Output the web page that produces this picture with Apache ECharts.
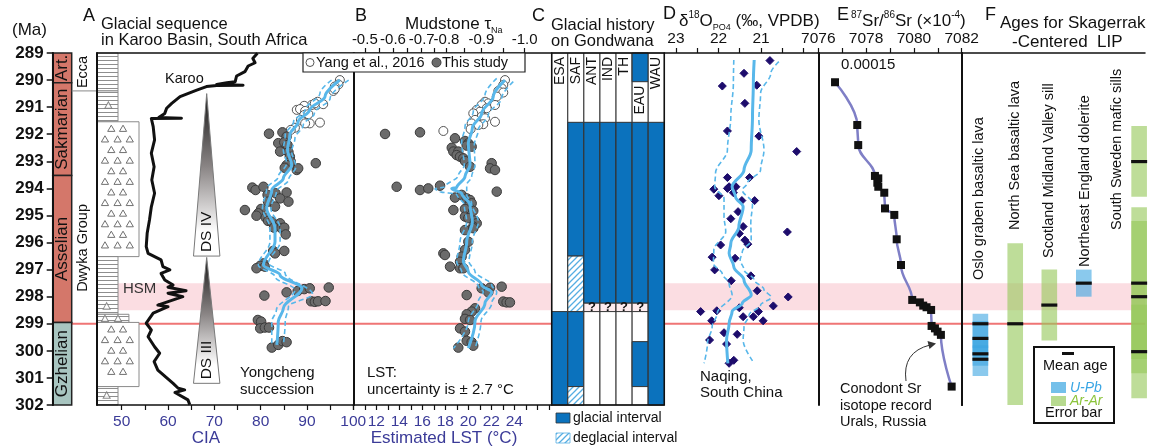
<!DOCTYPE html>
<html>
<head>
<meta charset="utf-8">
<script src="https://cdn.jsdelivr.net/npm/echarts@6/dist/echarts.min.js"></script>
<style>
html, body { margin: 0; padding: 0; background: #fff; }
#chart { width: 1151px; height: 448px; }
</style>
</head>
<body>
<div id="chart"></div>
<script>
// ---- time scale ----
var stageNames = ['Art.', 'Sakmarian', 'Asselian', 'Gzhelian'];
var stageTop = [289, 290.1, 293.52, 298.95];
var stageBase = [290.1, 293.52, 298.95, 302];

var groupNames = ['Ecca', 'Dwyka Group'];
var groupTop = [289, 290.4];
var groupBase = [290.4, 302];

var lithTop = [289, 290.4, 291.54, 296.52, 298.65, 298.95, 301.32];
var lithBase = [290.4, 291.54, 296.52, 298.65, 298.95, 301.32, 302];
var lithKind = ['mud', 'mud', 'diamictite', 'mud', 'mixed', 'diamictite', 'mud'];
var lithClasts = [[0.27, 290.92], [0.23, 298.34], [0.19, 298.8], [0.5, 298.8], [0.23, 301.63]];

var hsmBand = [297.5, 298.5];
var cpBoundary = 299.0;

var dsNames = ['DS IV', 'DS III'];
var dsTop = [290.5, 296.55];
var dsBase = [296.5, 301.2];

// ---- A: CIA ----
var karooCIA = [[79.3,289.01],[78.3,289.2],[78.8,289.36],[77.3,289.48],[76.6,289.69],[74.8,289.85],[74.5,290.06],[72.7,290.1],[70.5,290.16],[76.2,290.19],[70.5,290.2],[68.3,290.24],[66.2,290.37],[62.6,290.61],[60.8,290.86],[59.7,291.04],[59.3,291.23],[58.0,291.38],[62.9,291.41],[56.4,291.42],[56.8,291.72],[57.1,292.21],[56.4,292.7],[57.0,293.2],[56.5,293.69],[57.1,294.18],[56.4,294.68],[56.0,295.17],[55.5,295.66],[55.3,296.15],[55.7,296.4],[57.1,296.52],[58.5,296.64],[58.9,296.89],[60.4,297.01],[58.5,297.14],[59.3,297.38],[61.1,297.57],[60.0,297.65],[63.9,297.78],[60.0,297.87],[63.2,298.0],[57.8,298.31],[60.0,298.37],[56.8,298.61],[55.3,298.98],[56.4,299.23],[55.7,299.48],[57.1,299.85],[58.2,300.09],[57.0,300.4],[57.8,300.71],[61.1,301.2],[62.2,301.38],[63.6,301.44],[61.5,301.54],[64.3,301.81],[64.7,301.99]];
var ciaYang = [[97.1,290.0],[96.8,290.16],[96.0,290.24],[95.7,290.4],[96.0,290.33],[92.3,290.8],[92.1,290.92],[93.5,290.89],[91.0,290.92],[89.4,290.95],[91.7,290.86],[87.8,291.1],[88.5,291.07],[89.6,291.14],[89.4,291.29],[90.3,291.26],[88.7,291.47],[90.6,291.6],[89.6,291.6],[92.8,291.57],[87.4,291.76],[86.5,291.84]];
var ciaThis = [[81.8,291.98],[84.7,291.93],[85.6,292.09],[83.8,292.33],[85.1,292.3],[85.8,292.4],[84.2,292.64],[86.0,292.66],[86.3,292.83],[86.5,293.01],[85.6,293.14],[85.2,293.24],[91.9,293.07],[87.8,293.32],[88.1,293.26],[78.2,293.97],[78.9,294.06],[80.6,293.94],[85.6,294.15],[83.2,294.18],[81.5,294.24],[84.2,294.37],[86.0,294.49],[81.6,294.49],[83.1,294.67],[76.6,294.8],[80.1,294.76],[79.5,294.92],[79.1,295.01],[81.1,295.08],[81.6,295.2],[82.4,295.23],[84.2,295.29],[82.9,295.45],[84.5,295.47],[85.1,295.45],[85.4,295.7],[82.7,296.31],[83.1,296.4],[85.1,296.31],[80.6,296.77],[79.9,296.86],[79.1,296.95],[80.9,296.89],[80.8,297.96],[85.6,297.84],[88.0,297.79],[89.4,297.72],[90.6,297.69],[94.7,297.66],[90.9,298.17],[91.7,298.19],[92.4,298.17],[94.0,298.16],[79.4,298.86],[80.1,298.92],[79.9,299.17],[80.9,299.14],[81.8,299.14],[82.4,299.88],[83.8,299.78],[84.7,299.64],[85.6,299.68]];
var ciaMean = [[97.1,290.0],[93.9,290.61],[90.6,291.1],[88.1,291.54],[86.3,292.03],[85.8,292.58],[86.7,293.14],[84.9,293.63],[82.4,294.06],[81.3,294.73],[83.1,295.47],[83.1,295.97],[80.6,296.83],[84.2,297.2],[88.9,297.69],[84.9,298.43],[83.8,298.92],[83.5,299.78]];
var ciaLow = [[95.3,290.0],[92.8,290.49],[89.6,291.1],[87.1,291.54],[85.3,292.03],[84.9,292.58],[85.6,293.08],[83.8,293.57],[81.3,294.0],[80.4,294.73],[82.0,295.47],[82.0,295.97],[79.5,296.83],[83.1,297.26],[87.4,297.75],[83.4,298.49],[82.4,298.92],[82.4,299.78]];
var ciaHigh = [[99.0,290.0],[95.0,290.67],[91.6,291.23],[89.2,291.66],[87.4,292.15],[86.7,292.64],[87.6,293.2],[86.0,293.69],[83.4,294.12],[82.2,294.73],[84.2,295.47],[84.2,295.97],[81.7,296.77],[85.3,297.14],[91.2,297.91],[86.0,298.36],[85.3,298.92],[84.9,299.78]];

// ---- B: LST ----
var lstYang = [[23.19,290.0],[23.04,290.18],[22.9,290.3],[22.61,290.4],[23.04,290.46],[22.47,290.61],[21.45,290.8],[21.74,290.86],[21.16,290.92],[22.32,290.92],[21.6,291.04],[20.73,291.1],[21.01,291.17],[20.43,291.23],[21.16,291.35],[21.45,291.41],[20.58,291.47],[22.32,291.54],[20.29,291.6],[21.3,291.63],[20.87,291.66],[20.2,291.81],[17.83,291.88]];
var lstThis = [[12.76,291.99],[15.8,291.93],[18.84,292.15],[19.71,292.25],[20.0,292.34],[19.86,292.42],[20.29,292.46],[18.56,292.5],[18.7,292.64],[19.13,292.64],[18.99,292.77],[19.28,292.83],[19.57,292.89],[19.71,292.99],[20.15,293.2],[22.03,293.07],[21.89,293.26],[22.32,293.32],[13.77,293.94],[15.8,294.06],[16.52,294.0],[22.47,294.12],[17.54,293.9],[18.84,294.34],[19.42,294.24],[19.86,294.37],[20.15,294.43],[20.29,294.55],[20.0,294.67],[18.7,294.8],[19.71,294.76],[20.43,294.83],[19.71,295.04],[20.0,295.1],[20.58,295.2],[20.73,295.29],[20.43,295.41],[19.71,295.54],[20.43,295.47],[20.0,295.97],[19.71,296.27],[17.83,296.4],[17.97,296.46],[19.42,296.52],[19.28,296.71],[18.41,296.89],[19.28,296.95],[19.57,296.95],[21.16,297.69],[21.89,297.67],[22.9,297.63],[21.74,297.84],[19.86,297.94],[23.04,298.18],[23.33,298.21],[23.62,298.21],[20.58,298.43],[20.29,298.55],[19.86,298.65],[19.71,298.82],[20.15,298.86],[19.28,299.17],[19.71,299.29],[19.86,299.63],[20.29,299.68],[20.43,299.81],[19.13,299.88]];
var lstMean = [[23.19,290.0],[22.17,290.61],[21.16,291.23],[20.35,291.78],[20.0,292.34],[20.15,293.13],[19.71,293.56],[18.99,293.97],[18.56,294.0],[19.42,294.18],[20.15,294.61],[20.35,295.23],[19.86,295.97],[19.57,296.71],[20.0,297.07],[21.16,297.57],[22.03,297.84],[21.45,298.24],[20.58,298.92],[20.0,299.9]];
var lstLow = [[22.47,289.94],[21.45,290.55],[20.43,291.17],[19.71,291.72],[19.42,292.3],[19.65,293.14],[19.13,293.53],[17.97,293.94],[17.1,294.02],[17.54,294.12],[18.99,294.22],[19.65,294.61],[19.86,295.23],[19.28,295.97],[18.99,296.71],[19.42,297.07],[20.87,297.63],[21.3,297.81],[20.87,298.18],[20.0,298.92],[18.7,299.91]];
var lstHigh = [[23.91,290.06],[22.9,290.67],[21.74,291.29],[20.87,291.84],[20.52,292.4],[20.58,293.14],[20.29,293.57],[19.86,293.87],[19.86,294.24],[20.29,294.55],[20.87,295.23],[20.35,295.97],[20.06,296.71],[20.58,297.07],[22.03,297.57],[22.47,297.84],[22.03,298.24],[21.1,298.92],[20.58,299.91]];
var tauLabels = ['-0.5', '-0.6', '-0.7', '-0.8', '-0.9', '-1.0'];
var tauAtLst = [11.0, 13.45, 15.95, 18.1, 21.15, 24.9];

// ---- C: glacial history ----
var gondCols = ['ESA', 'SAF', 'ANT', 'IND', 'TH', 'EAU', 'WAU'];
var glacial = [
    [[298.55, 302]],
    [[291.56, 296.5], [298.55, 301.32]],
    [[291.56, 298.24]],
    [[291.56, 298.24]],
    [[291.56, 298.24]],
    [[289, 290.06], [291.56, 298.24], [299.66, 301.32]],
    [[291.56, 302]]
];
var deglacial = [[], [[296.5, 298.55], [301.32, 302]], [], [], [], [], []];
var uncertain = [[], [], [[298.24, 298.55]], [[298.24, 298.55]], [[298.24, 298.55]], [[298.24, 298.55]], []];

// ---- D: d18O phosphate ----
var d18O = [[20.79,289.28],[21.4,289.75],[21.91,290.22],[21.1,290.19],[21.38,290.86],[21.79,291.88],[21.05,292.07],[20.16,292.64],[21.79,293.6],[21.27,293.6],[22.11,294.03],[21.79,294.0],[21.75,293.94],[21.59,293.94],[21.99,294.27],[21.65,294.16],[21.45,294.45],[21.15,294.45],[21.54,294.86],[21.71,295.12],[21.42,295.41],[21.51,295.67],[20.38,295.61],[21.38,295.91],[21.31,296.06],[21.95,296.09],[22.15,296.54],[21.61,296.58],[22.09,297.01],[21.24,297.23],[21.7,297.41],[21.09,297.78],[20.36,298.01],[20.71,298.34],[21.51,298.41],[22.42,298.55],[22.04,298.52],[21.06,298.55],[21.42,298.74],[21.18,298.74],[20.95,298.89],[22.16,298.89],[21.87,299.33],[21.56,299.39],[22.21,299.6],[21.81,299.75],[21.75,300.46],[21.64,300.35]];
var d18Mean = [[21.16,289.26],[21.18,290.12],[21.2,291.35],[21.23,292.58],[21.4,293.32],[21.68,293.94],[21.6,294.31],[21.42,294.68],[21.52,295.41],[21.71,296.03],[21.75,296.4],[21.64,296.89],[21.4,297.38],[21.23,297.94],[21.44,298.24],[21.68,298.55],[21.75,298.98],[21.81,299.6],[21.78,300.46]];
var d18Heavy = [[21.64,289.26],[21.65,290.12],[21.71,291.35],[21.79,292.58],[22.07,293.44],[22.09,293.94],[21.87,294.37],[21.87,295.04],[21.83,295.6],[22.11,296.27],[22.12,296.77],[21.91,297.16],[21.75,297.51],[21.68,297.94],[22.03,298.61],[22.15,299.11],[22.26,299.72],[22.34,300.46]];
var d18Light = [[20.58,289.32],[20.77,289.75],[21.01,290.49],[21.05,291.47],[20.93,292.58],[21.01,293.32],[21.32,293.81],[21.44,294.06],[21.2,294.55],[21.24,295.29],[21.23,295.91],[21.44,296.34],[21.49,296.64],[21.4,297.01],[21.16,297.38],[20.93,297.73],[20.76,298.02],[21.01,298.31],[21.28,298.67],[21.4,299.11],[21.42,299.6],[21.16,300.46]];

// ---- E: 87Sr/86Sr (x10^-4) ----
var srAge = [290.08,291.66,292.4,293.54,293.63,293.79,293.94,294.16,294.74,294.98,295.88,296.83,298.12,298.21,298.33,298.39,298.49,299.08,299.17,299.29,299.41,301.32];
var srRatio = [7076.7,7077.63,7077.67,7078.37,7078.51,7078.47,7078.51,7078.76,7078.79,7079.18,7079.28,7079.46,7079.93,7080.25,7080.39,7080.53,7080.72,7080.74,7080.88,7080.99,7081.13,7081.58];

// ---- F: Skagerrak-Centered LIP ages ----
var lipNames = ['Oslo graben basaltic lava', 'North Sea basaltic lava', 'Scotland Midland Valley sill', 'Northeast England dolerite', 'South Sweden mafic sills'];
var lipSite = [0, 0, 0, 0, 1, 2, 3, 4, 4, 4, 4];
var lipYoung = [298.63, 298.9, 299.5, 299.8, 296.03, 297.0, 297.0, 291.7, 294.7, 295.2, 298.3];
var lipOld = [299.9, 300.2, 300.93, 300.55, 302.0, 299.62, 298.0, 294.31, 300.3, 300.83, 301.75];
var lipMean = [299.0, 299.54, 300.11, 300.31, 299.0, 298.31, 297.5, 293.01, 297.5, 298.0, 300.03];
var lipMethod = ['U-Pb', 'U-Pb', 'U-Pb', 'U-Pb', 'Ar-Ar', 'Ar-Ar', 'U-Pb', 'Ar-Ar', 'Ar-Ar', 'Ar-Ar', 'Ar-Ar'];

// axis ticks
var ciaTicks = [50, 55, 60, 65, 70, 75, 80, 85, 90, 95, 100];
var ciaLabels = [50, 60, 70, 80, 90, 100];
var lstTicks = [10, 11, 12, 13, 14, 15, 16, 17, 18, 19, 20, 21, 22, 23, 24, 25, 26, 27];
var lstLabels = [12, 14, 16, 18, 20, 22, 24];
var d18Ticks = [20, 20.5, 21, 21.5, 22, 22.5, 23];
var d18Labels = [21, 22, 23];
var srLabels = [7076, 7078, 7080, 7082];

var FONT = "'Liberation Sans', Arial, Helvetica, sans-serif";
var AXIS_BLUE = '#3b3b98';
var LOESS = '#58b7ea';
var TOP = 53, H = 352;

var makeCanvas = function (w, h, draw) {
    var c = document.createElement('canvas');
    c.width = w; c.height = h;
    var ctx = c.getContext('2d');
    ctx.fillStyle = '#fff';
    ctx.fillRect(0, 0, w, h);
    draw(ctx);
    return c;
};
var mudFill = {type: 'pattern', repeat: 'repeat', image: makeCanvas(6, 4, function (ctx) {
    ctx.strokeStyle = '#8e8e8e'; ctx.lineWidth = 1;
    ctx.beginPath(); ctx.moveTo(0, 0.5); ctx.lineTo(6, 0.5); ctx.stroke();
})};
var degFill = {type: 'pattern', repeat: 'repeat', image: makeCanvas(6, 6, function (ctx) {
    ctx.strokeStyle = '#55ade2'; ctx.lineWidth = 1.3;
    ctx.beginPath();
    ctx.moveTo(0, 6); ctx.lineTo(6, 0);
    ctx.moveTo(-1, 1); ctx.lineTo(1, -1);
    ctx.moveTo(5, 7); ctx.lineTo(7, 5);
    ctx.stroke();
})};

var rectBetween = function (p0, p1) {
    return {x: Math.min(p0[0], p1[0]), y: Math.min(p0[1], p1[1]),
        width: Math.abs(p1[0] - p0[0]), height: Math.abs(p1[1] - p0[1])};
};
var triangle = function (cx, cy) {
    return {type: 'polygon', shape: {points: [[cx, cy - 3.2], [cx - 3.6, cy + 3], [cx + 3.6, cy + 3]]},
        style: {fill: '#fff', stroke: '#707070', lineWidth: 1}};
};
var vtext = function (x, y, text, size, align) {
    return {type: 'text', x: x, y: y, rotation: Math.PI / 2,
        style: {text: text, fill: '#111', fontSize: size, fontFamily: FONT, align: align || 'center', verticalAlign: 'middle'}};
};

var grid = [
    {left: 118, width: 1027},     // 0 HSM band
    {left: 72, width: 1073},      // 1 boundary line
    {left: 52.7, width: 19},      // 2 stages
    {left: 71.7, width: 25.3},    // 3 groups
    {left: 97, width: 42},        // 4 lithology
    {left: 97, width: 256.3},     // 5 A
    {left: 353.3, width: 198.4},  // 6 B
    {left: 551.7, width: 112.6, show: true, borderColor: '#111', borderWidth: 1.5, backgroundColor: 'transparent', z: 10}, // 7 C
    {left: 664.3, width: 154},    // 8 D
    {left: 818.3, width: 143.4},  // 9 E
    {left: 961.7, width: 183.3}   // 10 F
].map(function (g) {
    g.top = TOP; g.height = H; g.containLabel = false; g.outerBoundsMode = 'none';
    return g;
});

var hidden = function (gi, min, max) {
    return {type: 'value', gridIndex: gi, min: min, max: max, show: false};
};
var lineOnly = {show: true, lineStyle: {color: '#111', width: 1.5}};
var tickStyle = function (values) {
    return {show: true, customValues: values, length: 5, lineStyle: {color: '#111', width: 1.2}};
};
var plain = function (v) { return String(v); };

var xAxis = [
    hidden(0, 0, 1), hidden(1, 0, 1), hidden(2, 0, 1), hidden(3, 0, 1), hidden(4, 0, 1),
    {type: 'value', gridIndex: 5, min: 44.67, max: 100, position: 'bottom', z: 6,
        axisLine: lineOnly, axisTick: tickStyle(ciaTicks), splitLine: {show: false},
        axisLabel: {customValues: ciaLabels, color: AXIS_BLUE, fontSize: 15.5, fontFamily: FONT, margin: 9, formatter: plain}},
    {type: 'value', gridIndex: 5, min: 44.67, max: 100, position: 'top', z: 6,
        axisLine: lineOnly, axisTick: {show: false}, axisLabel: {show: false}, splitLine: {show: false}},
    {type: 'value', gridIndex: 6, min: 10, max: 27.25, position: 'bottom', z: 6,
        axisLine: lineOnly, axisTick: tickStyle(lstTicks), splitLine: {show: false},
        axisLabel: {customValues: lstLabels, color: AXIS_BLUE, fontSize: 15.5, fontFamily: FONT, margin: 9, formatter: plain}},
    {type: 'value', gridIndex: 6, min: 10, max: 27.25, position: 'top', z: 6,
        axisLine: lineOnly, splitLine: {show: false},
        axisTick: tickStyle(tauAtLst.concat(tauAtLst.slice(1).map(function (v, i) { return (v + tauAtLst[i]) / 2; }))),
        axisLabel: {customValues: tauAtLst, color: '#111', fontSize: 15, fontFamily: FONT, margin: 6,
            formatter: function (v) {
                var best = 0;
                tauAtLst.forEach(function (t, i) { if (Math.abs(t - v) < Math.abs(tauAtLst[best] - v)) best = i; });
                return tauLabels[best];
            }}},
    hidden(7, 0, 7),
    {type: 'value', gridIndex: 8, min: 19.652, max: 23.275, inverse: true, position: 'top', z: 6,
        axisLine: lineOnly, axisTick: tickStyle(d18Ticks), splitLine: {show: false},
        axisLabel: {customValues: d18Labels, color: '#111', fontSize: 15.5, fontFamily: FONT, margin: 6, formatter: plain}},
    {type: 'value', gridIndex: 9, min: 7076, max: 7082, interval: 1, position: 'top', z: 6,
        axisLine: lineOnly, axisTick: {show: true, length: 5, lineStyle: {color: '#111', width: 1.2}}, splitLine: {show: false},
        axisLabel: {customValues: srLabels, color: '#111', fontSize: 15.5, fontFamily: FONT, margin: 6, formatter: plain}},
    {type: 'value', gridIndex: 10, min: 0, max: 5, position: 'top', z: 6,
        axisLine: lineOnly, axisTick: {show: false}, axisLabel: {show: false}, splitLine: {show: false}}
];

var ageAxis = function (gi, extra) {
    return Object.assign({type: 'value', gridIndex: gi, min: 289, max: 302, inverse: true, show: false}, extra || {});
};
var sideLine = function (gi, pos) {
    return ageAxis(gi, {show: true, position: pos, z: 6, axisLine: {show: true, lineStyle: {color: '#111', width: 2}},
        axisTick: {show: false}, axisLabel: {show: false}, splitLine: {show: false}});
};
var yAxis = [
    ageAxis(0), ageAxis(1),
    ageAxis(2, {show: true, position: 'left', interval: 1, z: 6,
        axisLine: {show: true, lineStyle: {color: '#111', width: 2}},
        axisTick: {show: true, length: 6, lineStyle: {color: '#111', width: 1.5}},
        axisLabel: {color: '#111', fontSize: 17, fontWeight: 'bold', fontFamily: FONT, margin: 9},
        splitLine: {show: false}}),
    ageAxis(3), ageAxis(4),
    sideLine(5, 'left'), sideLine(6, 'left'), ageAxis(7),
    sideLine(8, 'right'), sideLine(9, 'right'), sideLine(10, 'right')
];

var STAGE_COLORS = ['#d4776a', '#d4776a', '#d4776a', '#a8c5c0'];
var LIP_COLORS = {'U-Pb': 'rgba(60,165,225,0.6)', 'Ar-Ar': 'rgba(150,200,90,0.62)'};
var F_SLOT = [0.51, 1.46, 2.39, 3.33, 4.84];
var DS_X = 68.35;

var pairs = function (a, b) { return a.map(function (v, i) { return [b[i], v]; }); };

var loess = function (name, xi, yi, data, dashed) {
    return {name: name, type: 'line', xAxisIndex: xi, yAxisIndex: yi, data: data, z: 4, silent: true,
        showSymbol: false, smooth: 0.35, smoothMonotone: 'y',
        lineStyle: dashed ? {color: LOESS, width: 1.6, type: [5, 3]} : {color: LOESS, width: 3}};
};
var dots = function (name, xi, yi, data, fill, border, size, symbol) {
    return {name: name, type: 'scatter', xAxisIndex: xi, yAxisIndex: yi, data: data, z: 3, silent: true,
        symbol: symbol || 'circle', symbolSize: size,
        itemStyle: {color: fill, borderColor: border, borderWidth: 1, opacity: 1}};
};

var gondRows = [];
gondCols.forEach(function (c, i) {
    gondRows.push([i, 289, 302, 0]);
    glacial[i].forEach(function (r) { gondRows.push([i, r[0], r[1], 1]); });
    deglacial[i].forEach(function (r) { gondRows.push([i, r[0], r[1], 2]); });
    uncertain[i].forEach(function (r) { gondRows.push([i, r[0], r[1], 3]); });
});
var gondLabelRows = gondCols.map(function (c, i) {
    var top = 289;
    glacial[i].forEach(function (r) { if (r[0] <= top) top = Math.max(top, r[1]); });
    return [i, top];
});

var series = [
    {type: 'custom', xAxisIndex: 0, yAxisIndex: 0, z: 1, silent: true, data: [[0, hsmBand[0], hsmBand[1]]],
        renderItem: function (params, api) {
            return {type: 'rect', shape: rectBetween(api.coord([0, api.value(1)]), api.coord([1, api.value(2)])),
                style: {fill: '#fbdde2'}};
        }},
    {type: 'custom', xAxisIndex: 1, yAxisIndex: 1, z: 1, silent: true, data: [[0, cpBoundary]],
        renderItem: function (params, api) {
            var a = api.coord([0, api.value(1)]), b = api.coord([1, api.value(1)]);
            return {type: 'line', shape: {x1: a[0], y1: a[1], x2: b[0], y2: b[1]}, style: {stroke: '#ef7575', lineWidth: 2.2}};
        }},
    {type: 'custom', xAxisIndex: 2, yAxisIndex: 2, silent: true,
        data: stageNames.map(function (n, i) { return [0, stageTop[i], stageBase[i], i]; }),
        renderItem: function (params, api) {
            var i = api.value(3);
            var p0 = api.coord([0, api.value(1)]), p1 = api.coord([1, api.value(2)]);
            return {type: 'group', children: [
                {type: 'rect', shape: rectBetween(p0, p1), style: {fill: STAGE_COLORS[i], stroke: '#222', lineWidth: 1.5}},
                vtext((p0[0] + p1[0]) / 2, (p0[1] + p1[1]) / 2, stageNames[i], 17)
            ]};
        }},
    {type: 'custom', xAxisIndex: 3, yAxisIndex: 3, silent: true,
        data: groupNames.map(function (n, i) { return [0, groupTop[i], groupBase[i], i]; }),
        renderItem: function (params, api) {
            var i = api.value(3);
            var p0 = api.coord([0, api.value(1)]), p1 = api.coord([1, api.value(2)]);
            var kids = [vtext((p0[0] + p1[0]) / 2 - 1, (p0[1] + p1[1]) / 2, groupNames[i], 14.5)];
            if (i === 0) {
                kids.push({type: 'line', shape: {x1: p0[0], y1: p1[1], x2: p1[0], y2: p1[1]}, style: {stroke: '#8a8a8a', lineWidth: 1}});
            }
            return {type: 'group', children: kids};
        }},
    {type: 'custom', xAxisIndex: 4, yAxisIndex: 4, silent: true,
        data: lithKind.map(function (k, i) { return [0, lithTop[i], lithBase[i], i]; }),
        renderItem: function (params, api) {
            var kind = lithKind[api.value(3)];
            var w = kind === 'mud' ? 0.5 : (kind === 'mixed' ? 0.76 : 1);
            var p0 = api.coord([0, api.value(1)]), p1 = api.coord([w, api.value(2)]);
            var kids = [{type: 'rect', shape: rectBetween(p0, p1),
                style: {fill: kind === 'diamictite' ? '#fff' : mudFill, stroke: '#8a8a8a', lineWidth: 1}}];
            if (kind === 'diamictite') {
                var width = p1[0] - p0[0];
                for (var y = p0[1] + 6.6, r = 0; y < p1[1] - 5; y += 10.6, r++) {
                    var xs = r % 2 === 0 ? [0.34, 0.62] : [0.19, 0.49, 0.78];
                    xs.forEach(function (f) { kids.push(triangle(p0[0] + f * width, y)); });
                }
            }
            return {type: 'group', children: kids};
        }},
    {type: 'scatter', xAxisIndex: 4, yAxisIndex: 4, data: lithClasts, symbol: 'triangle', symbolSize: [7, 6.5], silent: true, z: 3,
        itemStyle: {color: '#fff', borderColor: '#707070', borderWidth: 1}},

    // A
    {type: 'custom', xAxisIndex: 5, yAxisIndex: 5, silent: true,
        data: dsNames.map(function (n, i) { return [DS_X, dsTop[i], dsBase[i], i]; }),
        renderItem: function (params, api) {
            var apex = api.coord([DS_X, api.value(1)]);
            var bl = api.coord([DS_X - 2.85, api.value(2)]), br = api.coord([DS_X + 2.85, api.value(2)]);
            return {type: 'group', children: [
                {type: 'polygon', shape: {points: [apex, bl, br]},
                    style: {fill: new echarts.graphic.LinearGradient(0, 0, 0, 1, [
                        {offset: 0, color: '#151515'}, {offset: 0.45, color: '#8a8585'}, {offset: 0.85, color: '#ffffff'}]),
                        stroke: '#7a7a7a', lineWidth: 1}},
                vtext(apex[0], bl[1] - 4, dsNames[api.value(3)], 15.5, 'left')
            ]};
        }},
    {name: 'Karoo', type: 'line', xAxisIndex: 5, yAxisIndex: 5, data: karooCIA, showSymbol: false, z: 3, silent: true,
        lineStyle: {color: '#111', width: 3, join: 'round'}},
    dots('Yang et al., 2016', 5, 5, ciaYang, '#fff', '#555', 9),
    dots('This study', 5, 5, ciaThis, '#6b6b6b', '#3a3a3a', 9.5),
    loess('cia mean', 5, 5, ciaMean),
    loess('cia low', 5, 5, ciaLow, true),
    loess('cia high', 5, 5, ciaHigh, true),

    // B
    dots('Yang et al., 2016', 7, 6, lstYang, '#fff', '#555', 9),
    dots('This study', 7, 6, lstThis, '#6b6b6b', '#3a3a3a', 9.5),
    loess('lst mean', 7, 6, lstMean),
    loess('lst low', 7, 6, lstLow, true),
    loess('lst high', 7, 6, lstHigh, true),

    // C
    {type: 'custom', xAxisIndex: 9, yAxisIndex: 7, silent: true, data: gondRows,
        renderItem: function (params, api) {
            var col = api.value(0), kind = api.value(3);
            var p0 = api.coord([col, api.value(1)]), p1 = api.coord([col + 1, api.value(2)]);
            var fill = ['#fff', '#0b72bd', degFill, '#fdecef'][kind];
            var kids = [{type: 'rect', shape: rectBetween(p0, p1), style: {fill: fill, stroke: '#333', lineWidth: 1}}];
            if (kind === 3) {
                kids.push({type: 'text', x: (p0[0] + p1[0]) / 2, y: (p0[1] + p1[1]) / 2 + 0.5,
                    style: {text: '?', fill: '#111', fontSize: 13, fontWeight: 'bold', fontFamily: FONT, align: 'center', verticalAlign: 'middle'}});
            }
            return {type: 'group', children: kids};
        }},
    {type: 'custom', xAxisIndex: 9, yAxisIndex: 7, silent: true, z: 3, data: gondLabelRows,
        renderItem: function (params, api) {
            var p = api.coord([api.value(0) + 0.5, api.value(1)]);
            return vtext(p[0], p[1] + 4, gondCols[api.value(0)], 14, 'right');
        }},

    // D
    loess('d18 mean', 10, 8, d18Mean),
    loess('d18 heavy', 10, 8, d18Heavy, true),
    loess('d18 light', 10, 8, d18Light, true),
    dots('Naqing', 10, 8, d18O, '#1d0c6c', '#1d0c6c', 8, 'diamond'),

    // E
    {name: 'Sr', type: 'line', xAxisIndex: 11, yAxisIndex: 9, data: pairs(srAge, srRatio), silent: true, z: 3,
        smooth: 0.4, smoothMonotone: 'y', symbol: 'rect', symbolSize: 8, showSymbol: true,
        itemStyle: {color: '#111'}, lineStyle: {color: '#7f7fc6', width: 2.5}},

    // F
    {type: 'custom', xAxisIndex: 12, yAxisIndex: 10, silent: true, z: 3,
        data: lipSite.map(function (s, i) { return [s, lipYoung[i], lipOld[i], lipMean[i], i]; }),
        renderItem: function (params, api) {
            var s = api.value(0);
            var p0 = api.coord([F_SLOT[s], api.value(1)]), p1 = api.coord([F_SLOT[s], api.value(2)]);
            return {type: 'rect', shape: {x: p0[0] - 7.8, y: p0[1], width: 15.6, height: p1[1] - p0[1]},
                style: {fill: LIP_COLORS[lipMethod[api.value(4)]]}};
        }},
    {type: 'custom', xAxisIndex: 12, yAxisIndex: 10, silent: true, z: 4,
        data: lipSite.map(function (s, i) { return [s, lipMean[i]]; }),
        renderItem: function (params, api) {
            var p = api.coord([F_SLOT[api.value(0)], api.value(1)]);
            return {type: 'rect', shape: {x: p[0] - 8, y: p[1] - 1.6, width: 16, height: 3.2}, style: {fill: '#111'}};
        }}
];

var T = function (x, y, text, size, o) {
    o = o || {};
    return {type: 'text', x: x, y: y, rotation: o.rot || 0, z: 20, silent: true,
        style: {text: text, fill: o.color || '#111', fontSize: size, fontFamily: FONT,
            fontStyle: o.italic ? 'italic' : 'normal', align: o.align || 'left', verticalAlign: 'middle', rich: o.rich}};
};
var richSS = function (size) {
    return {
        m: {fontSize: size, fontFamily: FONT, lineHeight: 22, verticalAlign: 'middle'},
        sup: {fontSize: 10, fontFamily: FONT, lineHeight: 22, verticalAlign: 'top'},
        sub: {fontSize: 9, fontFamily: FONT, lineHeight: 22, verticalAlign: 'bottom'}
    };
};

var graphic = [
    T(12, 30, '(Ma)', 17),
    T(83, 16, 'A', 18), T(101, 24, 'Glacial sequence', 16.5), T(101, 40.5, 'in Karoo Basin, South Africa', 16.5),
    T(355, 16, 'B', 18), T(405, 24, '{m|Mudstone τ}{sub|Na}', 17, {rich: richSS(17)}),
    T(532, 16, 'C', 18), T(551, 25, 'Glacial history', 16.5), T(551, 41, 'on Gondwana', 16.5),
    T(663, 14, 'D', 18), T(679, 21, '{m|δ}{sup|18}{m|O}{sub|PO4}{m| (‰, VPDB)}', 17, {rich: richSS(17)}),
    T(837, 15, 'E', 18), T(851, 21, '{sup|87}{m|Sr/}{sup|86}{m|Sr (×10}{sup|-4}{m|)}', 17, {rich: richSS(17)}),
    T(985, 15, 'F', 18), T(1000, 23, 'Ages for Skagerrak', 17), T(1012, 42, '-Centered  LIP', 17),
    T(206, 438, 'CIA', 17, {color: AXIS_BLUE, align: 'center'}),
    T(444, 438, 'Estimated LST (°C)', 17, {color: AXIS_BLUE, align: 'center'}),
    T(165, 79, 'Karoo', 14.5), T(123, 289, 'HSM', 15, {color: '#333'}),
    T(240, 373, 'Yongcheng', 15), T(240, 390, 'succession', 15),
    T(367, 373, 'LST:', 15), T(367, 390, 'uncertainty is ± 2.7 °C', 15),
    T(700, 377, 'Naqing,', 15), T(700, 393, 'South China', 15),
    T(841, 65, '0.00015', 15),
    T(840, 389, 'Conodont Sr', 14.5), T(840, 406, 'isotope record', 14.5), T(840, 422, 'Urals, Russia', 14.5),
    {type: 'bezierCurve', z: 20, silent: true, shape: {x1: 906, y1: 381, x2: 930, y2: 345, cpx1: 902, cpy1: 352},
        style: {stroke: '#333', lineWidth: 1, fill: null}},
    {type: 'polygon', z: 20, silent: true, shape: {points: [[936, 343.5], [927.5, 341], [929.5, 349]]}, style: {fill: '#333'}},

    // A/B legend
    {type: 'rect', z: 19, silent: true, shape: {x: 303, y: 53, width: 222, height: 19}, style: {fill: '#fff', stroke: '#222', lineWidth: 1.2}},
    {type: 'circle', z: 20, silent: true, shape: {cx: 310, cy: 62.5, r: 4}, style: {fill: '#fff', stroke: '#555', lineWidth: 1}},
    T(316, 62.5, 'Yang et al., 2016', 14.5),
    {type: 'circle', z: 20, silent: true, shape: {cx: 436.5, cy: 62.5, r: 4.5}, style: {fill: '#6b6b6b', stroke: '#3a3a3a', lineWidth: 1}},
    T(442, 62.5, 'This study', 14.5),

    // C legend
    {type: 'rect', z: 20, silent: true, shape: {x: 556, y: 413, width: 14, height: 10}, style: {fill: '#0b72bd', stroke: '#333', lineWidth: 0.8}},
    T(573, 418, 'glacial interval', 14),
    {type: 'rect', z: 20, silent: true, shape: {x: 556, y: 433, width: 14, height: 10}, style: {fill: degFill, stroke: '#55ade2', lineWidth: 0.8}},
    T(573, 438, 'deglacial interval', 14),

    // F legend
    {type: 'rect', z: 19, silent: true, shape: {x: 1034, y: 347, width: 80, height: 76}, style: {fill: '#fff', stroke: '#111', lineWidth: 2}},
    {type: 'rect', z: 20, silent: true, shape: {x: 1062, y: 352, width: 12, height: 3}, style: {fill: '#111'}},
    T(1043, 366, 'Mean age', 14.5),
    {type: 'rect', z: 20, silent: true, shape: {x: 1051, y: 382, width: 15, height: 11}, style: {fill: '#74c0ea'}},
    T(1070, 388, 'U-Pb', 14, {italic: true, color: '#3aa6e4'}),
    {type: 'rect', z: 20, silent: true, shape: {x: 1051, y: 396, width: 15, height: 10}, style: {fill: '#b7da8f'}},
    T(1070, 401, 'Ar-Ar', 14, {italic: true, color: '#8cc43c'}),
    T(1045, 413, 'Error bar', 14.5),

    // F site names
    T(978.5, 280, lipNames[0], 14.5, {rot: Math.PI / 2}),
    T(1015, 230, lipNames[1], 14.5, {rot: Math.PI / 2}),
    T(1048.5, 258, lipNames[2], 14.5, {rot: Math.PI / 2}),
    T(1085, 267, lipNames[3], 14.5, {rot: Math.PI / 2}),
    T(1117, 230, lipNames[4], 14.5, {rot: Math.PI / 2})
];

var chart = echarts.init(document.getElementById('chart'), null, {renderer: 'canvas'});
chart.setOption({
    animation: false,
    backgroundColor: '#fff',
    grid: grid,
    xAxis: xAxis,
    yAxis: yAxis,
    series: series,
    graphic: graphic
});
</script>
</body>
</html>
